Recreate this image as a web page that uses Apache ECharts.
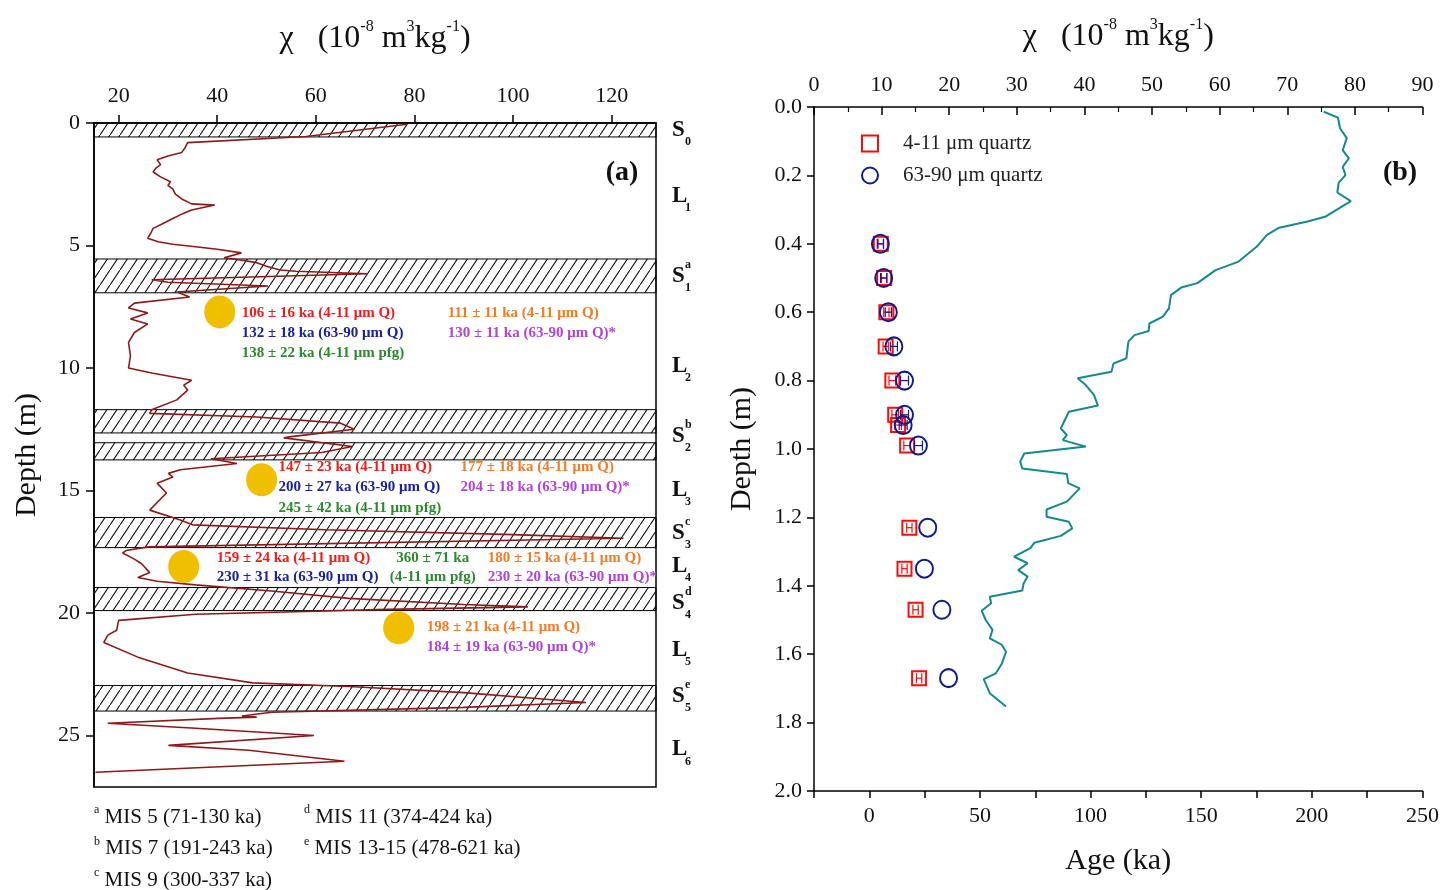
<!DOCTYPE html>
<html>
<head>
<meta charset="utf-8">
<script src="https://cdn.jsdelivr.net/npm/echarts@6/dist/echarts.min.js"></script>
<style>
html, body { margin: 0; background: #fff; }
#chart { width: 1442px; height: 890px; }
</style>
</head>
<body>
<div id="chart"></div>
<script>
// ---- panel (a): magnetic susceptibility profile vs depth ----
const profileDepth = [0.05, 0.55, 0.8, 1.0, 1.2, 1.35, 1.5, 1.7, 1.85, 2.0, 2.2, 2.4, 2.55, 2.7, 2.9, 3.1, 3.3, 3.35, 3.55, 3.7, 3.9, 4.1, 4.3, 4.5, 4.7, 4.85, 4.95, 5.05, 5.15, 5.3, 5.5, 5.6, 5.7, 5.85, 6.0, 6.05, 6.15, 6.4, 6.5, 6.65, 6.9, 7.1, 7.35, 7.55, 7.75, 8.0, 8.2, 8.55, 8.95, 9.5, 10.0, 10.2, 10.5, 10.7, 10.9, 11.3, 11.7, 11.85, 12.0, 12.25, 12.5, 12.8, 12.85, 13.2, 13.45, 13.7, 13.9, 14.15, 14.3, 14.45, 14.7, 15.1, 15.8, 16.2, 16.4, 16.6, 16.8, 16.95, 17.3, 17.45, 17.55, 17.8, 18.0, 18.35, 18.55, 18.7, 18.85, 19.1, 19.4, 19.65, 19.75, 19.85, 20.05, 20.3, 20.7, 20.9, 21.2, 21.8, 22.45, 22.85, 23.0, 23.25, 23.5, 23.65, 23.85, 24.05, 24.2, 24.25, 24.3, 24.5, 24.7, 25.0, 25.4, 25.6, 26.05, 26.5];
const profileChi = [78.5, 58, 34, 33.5, 32.8, 30, 27.8, 28.5, 27.5, 27, 28.5, 30.5, 30, 31, 31.5, 32.8, 34.8, 39.5, 34.8, 33, 31, 29, 27, 26.5, 25.9, 28, 31, 35.6, 40, 44.9, 41.4, 45, 48, 50, 52.7, 56, 70.5, 26.7, 30, 50.3, 31.8, 34.4, 23.2, 22, 25.9, 22.4, 25.9, 23.2, 22, 22.4, 22, 26.7, 34.8, 33.2, 34, 31.8, 26.7, 26.3, 48, 65, 67.8, 55, 53.5, 67.4, 61.2, 38.7, 44, 32.5, 30.1, 31, 27.8, 29.7, 26.3, 32.5, 35, 62, 100, 122.4, 26, 21.5, 20.8, 23.2, 24.7, 26.3, 23.9, 27.8, 35.6, 51, 66.7, 90, 103, 74.4, 35.6, 20, 19.6, 17.8, 17, 23.9, 34, 47.2, 66.7, 90, 105.4, 114.8, 90, 51, 45, 48, 40.3, 17.8, 35.6, 59.6, 30.1, 46.4, 65.8, 15.3];
const paleosolTop = [0, 5.55, 11.7, 13.05, 16.1, 18.96, 22.96];
const paleosolBottom = [0.57, 6.93, 12.65, 13.75, 17.33, 19.9, 24.0];
const unitLetter = ['S', 'L', 'S', 'L', 'S', 'L', 'S', 'L', 'S', 'L', 'S', 'L'];
const unitSub = ['0', '1', '1', '2', '2', '3', '3', '4', '4', '5', '5', '6'];
const unitSup = ['', '', 'a', '', 'b', '', 'c', '', 'd', '', 'e', ''];
const unitDepth = [0.29, 2.98, 6.24, 9.9, 12.76, 14.97, 16.72, 18.07, 19.6, 21.5, 23.4, 25.57];
const sampleChi = [40.5, 49, 33.2, 76.8];
const sampleDepthA = [7.71, 14.56, 18.1, 20.6];
const sampleTexts = [
    [['106 ± 16 ka (4-11 μm Q)', '132 ± 18 ka (63-90 μm Q)', '138 ± 22 ka (4-11 μm pfg)'], ['111 ± 11 ka (4-11 μm Q)', '130 ± 11 ka (63-90 μm Q)*']],
    [['147 ± 23 ka (4-11 μm Q)', '200 ± 27 ka (63-90 μm Q)', '245 ± 42 ka (4-11 μm pfg)'], ['177 ± 18 ka (4-11 μm Q)', '204 ± 18 ka (63-90 μm Q)*']],
    [['159 ± 24 ka (4-11 μm Q)', '230 ± 31 ka (63-90 μm Q)'], ['360 ± 71 ka', '(4-11 μm pfg)'], ['180 ± 15 ka (4-11 μm Q)', '230 ± 20 ka (63-90 μm Q)*']],
    [['198 ± 21 ka (4-11 μm Q)', '184 ± 19 ka (63-90 μm Q)*']]
];
const leftChiTicks = [20, 40, 60, 80, 100, 120];
const leftDepthTicks = [0, 5, 10, 15, 20, 25];
const footnoteSup = ['a', 'b', 'c', 'd', 'e'];
const footnoteText = ['MIS 5 (71-130 ka)', 'MIS 7 (191-243 ka)', 'MIS 9 (300-337 ka)', 'MIS 11 (374-424 ka)', 'MIS 13-15 (478-621 ka)'];

// ---- panel (b): upper section ----
const upperDepth = [0.014, 0.031, 0.062, 0.091, 0.126, 0.15, 0.175, 0.199, 0.222, 0.25, 0.275, 0.32, 0.335, 0.353, 0.374, 0.408, 0.452, 0.477, 0.515, 0.528, 0.55, 0.589, 0.613, 0.633, 0.655, 0.667, 0.686, 0.735, 0.75, 0.774, 0.793, 0.813, 0.842, 0.873, 0.891, 0.94, 0.959, 0.974, 0.993, 1.013, 1.037, 1.057, 1.073, 1.1, 1.115, 1.154, 1.177, 1.198, 1.213, 1.232, 1.254, 1.274, 1.29, 1.315, 1.334, 1.354, 1.373, 1.393, 1.414, 1.432, 1.451, 1.473, 1.5, 1.529, 1.554, 1.573, 1.593, 1.627, 1.656, 1.673, 1.714, 1.753];
const upperChi = [75.4, 77.5, 77.8, 78.8, 78.2, 79.1, 78.2, 78.6, 77.6, 77.4, 79.4, 75.7, 73.0, 68.8, 67.0, 65.5, 62.8, 59.4, 56.7, 54.3, 52.8, 52.5, 51.6, 49.6, 49.5, 47.4, 46.5, 46.2, 44.3, 44.0, 39.0, 40.2, 41.4, 42.0, 37.7, 36.5, 37.4, 36.8, 40.2, 31.1, 30.5, 30.8, 37.4, 37.6, 39.3, 37.4, 34.4, 34.4, 37.7, 38.2, 36.5, 32.6, 32.0, 29.6, 31.6, 30.2, 31.6, 31.0, 30.8, 26.0, 26.2, 24.8, 25.4, 26.4, 26.0, 27.8, 28.4, 27.8, 26.9, 25.1, 26.0, 28.4];
const sampleDepthB = [0.40, 0.50, 0.60, 0.70, 0.80, 0.90, 0.93, 0.99, 1.23, 1.35, 1.47, 1.67];
const ageFine = [5.2, 6.7, 7.7, 7.4, 10.4, 11.7, 13.0, 17.1, 18.1, 15.9, 20.9, 22.5];
const ageFineErr = [1.2, 1.2, 1.2, 1.2, 1.5, 1.5, 1.5, 1.5, 1.2, 1.2, 1.2, 1.2];
const ageCoarse = [5.0, 6.5, 8.6, 11.1, 15.9, 15.9, 15.3, 22.2, 26.4, 24.9, 32.8, 35.8];
const ageCoarseErr = [1.4, 1.4, 1.4, 1.6, 1.8, 1.8, 1.8, 1.8, 0, 0, 0, 0];

const SERIF = '"Liberation Serif", "Times New Roman", serif';
const RED = '#f01c1c', NAVY = '#1b2496', GREEN = '#2b8a2b', ORANGE = '#f57a24', PURPLE = '#b043dc';
const textColors = [
    [[RED, NAVY, GREEN], [ORANGE, PURPLE]],
    [[RED, NAVY, GREEN], [ORANGE, PURPLE]],
    [[RED, NAVY], [GREEN, GREEN], [ORANGE, PURPLE]],
    [[ORANGE, PURPLE]]
];

function hatchPattern() {
    const c = document.createElement('canvas');
    c.width = 10; c.height = 15;
    const g = c.getContext('2d');
    g.strokeStyle = '#111';
    g.lineWidth = 1.1;
    g.beginPath();
    g.moveTo(-1, 16.5); g.lineTo(11, -1.5);
    g.stroke();
    return c;
}
const hatch = hatchPattern();

const chart = echarts.init(document.getElementById('chart'));

const chiName = '{t|χ}   {t|(10}{s|-8}{t| m}{s|3}{t|kg}{s|-1}{t|)}';
const chiRich = {
    t: { fontFamily: SERIF, fontSize: 32, color: '#111', lineHeight: 40 },
    s: { fontFamily: SERIF, fontSize: 16, color: '#111', lineHeight: 14, verticalAlign: 'top' }
};
const axisLineStyle = { color: '#000', width: 1.5 };
const labelStyle = { fontFamily: SERIF, fontSize: 22, color: '#111' };

function errorBars(ages, errs, color) {
    return {
        type: 'custom',
        xAxisIndex: 2,
        yAxisIndex: 1,
        z: 5,
        silent: true,
        data: sampleDepthB.map((d, i) => [ages[i] - errs[i], ages[i] + errs[i], d, errs[i]]),
        encode: { x: [0, 1], y: 2 },
        renderItem: function (params, api) {
            if (api.value(3) <= 0) return null;
            const lo = api.coord([api.value(0), api.value(2)]);
            const hi = api.coord([api.value(1), api.value(2)]);
            const st = { stroke: color, lineWidth: 1.2 };
            return {
                type: 'group',
                children: [
                    { type: 'line', shape: { x1: lo[0], y1: lo[1], x2: hi[0], y2: hi[1] }, style: st },
                    { type: 'line', shape: { x1: lo[0], y1: lo[1] - 5, x2: lo[0], y2: lo[1] + 5 }, style: st },
                    { type: 'line', shape: { x1: hi[0], y1: hi[1] - 5, x2: hi[0], y2: hi[1] + 5 }, style: st }
                ]
            };
        }
    };
}

const option = {
    animation: false,
    backgroundColor: '#fff',
    grid: [
        { left: 94, top: 123, width: 562, height: 664, show: true, borderColor: '#000', borderWidth: 1.5, backgroundColor: 'transparent' },
        { left: 814, top: 107, width: 609, height: 684 }
    ],
    legend: {
        data: ['4-11 μm quartz', '63-90 μm quartz'],
        orient: 'vertical',
        left: 856,
        top: 128,
        itemWidth: 16,
        itemHeight: 16,
        itemGap: 11,
        textStyle: { fontFamily: SERIF, fontSize: 21, color: '#222', padding: [0, 0, 0, 20] }
    },
    xAxis: [
        {
            type: 'value', gridIndex: 0, position: 'top', min: 15, max: 129,
            name: chiName, nameLocation: 'middle', nameGap: 64,
            nameTextStyle: { fontFamily: SERIF, fontSize: 32, color: '#111', rich: chiRich },
            axisLine: { lineStyle: axisLineStyle },
            axisTick: { customValues: leftChiTicks, length: 8, lineStyle: axisLineStyle },
            axisLabel: { customValues: leftChiTicks, margin: 16, ...labelStyle },
            splitLine: { show: false }
        },
        {
            type: 'value', gridIndex: 1, position: 'top', min: 0, max: 90, interval: 10,
            name: chiName, nameLocation: 'middle', nameGap: 50,
            nameTextStyle: { fontFamily: SERIF, fontSize: 32, color: '#111', rich: chiRich },
            axisLine: { lineStyle: axisLineStyle },
            axisTick: { inside: true, length: 8, lineStyle: axisLineStyle },
            minorTick: { show: true, splitNumber: 2, length: 5, lineStyle: { color: '#000', width: 1.2 } },
            axisLabel: { margin: 11, ...labelStyle },
            splitLine: { show: false }
        },
        {
            type: 'value', gridIndex: 1, position: 'bottom', min: -25, max: 250, interval: 25,
            name: 'Age (ka)', nameLocation: 'middle', nameGap: 55,
            nameTextStyle: { fontFamily: SERIF, fontSize: 30, color: '#111' },
            axisLine: { onZero: false, lineStyle: axisLineStyle },
            axisTick: { length: 7, lineStyle: axisLineStyle },
            axisLabel: { margin: 14, ...labelStyle, formatter: v => (v % 50 === 0 ? String(v) : '') },
            splitLine: { show: false }
        }
    ],
    yAxis: [
        {
            type: 'value', gridIndex: 0, inverse: true, min: 0, max: 27.1,
            name: 'Depth (m)', nameLocation: 'middle', nameGap: 52, nameRotate: 90,
            nameTextStyle: { fontFamily: SERIF, fontSize: 30, color: '#111' },
            axisLine: { lineStyle: axisLineStyle },
            axisTick: { customValues: leftDepthTicks, length: 8, lineStyle: axisLineStyle },
            axisLabel: { customValues: leftDepthTicks, margin: 14, ...labelStyle },
            splitLine: { show: false }
        },
        {
            type: 'value', gridIndex: 1, inverse: true, min: 0, max: 2, interval: 0.2,
            name: 'Depth (m)', nameLocation: 'middle', nameGap: 57, nameRotate: 90,
            nameTextStyle: { fontFamily: SERIF, fontSize: 30, color: '#111' },
            axisLine: { onZero: false, lineStyle: axisLineStyle },
            axisTick: { length: 7, lineStyle: axisLineStyle },
            axisLabel: { margin: 12, ...labelStyle, formatter: v => v.toFixed(1) },
            splitLine: { show: false }
        }
    ],
    series: [
        {
            name: 'chi profile',
            type: 'line',
            xAxisIndex: 0,
            yAxisIndex: 0,
            showSymbol: false,
            z: 3,
            lineStyle: { color: '#8b1a1a', width: 1.6 },
            data: profileDepth.map((d, i) => [profileChi[i], d]),
            markArea: {
                silent: true,
                itemStyle: { color: { image: hatch, repeat: 'repeat' }, borderColor: '#000', borderWidth: 1 },
                data: paleosolTop.map((t, i) => [{ yAxis: t }, { yAxis: paleosolBottom[i] }])
            }
        },
        {
            name: 'samples',
            type: 'scatter',
            xAxisIndex: 0,
            yAxisIndex: 0,
            symbol: 'circle',
            symbolSize: [31, 33],
            z: 4,
            itemStyle: { color: '#f0c000', opacity: 1 },
            data: sampleDepthA.map((d, i) => [sampleChi[i], d])
        },
        {
            name: 'chi upper',
            type: 'line',
            xAxisIndex: 1,
            yAxisIndex: 1,
            showSymbol: false,
            lineStyle: { color: '#16898a', width: 2 },
            data: upperDepth.map((d, i) => [upperChi[i], d])
        },
        {
            name: '4-11 μm quartz',
            type: 'scatter',
            xAxisIndex: 2,
            yAxisIndex: 1,
            symbol: 'rect',
            symbolSize: [14, 14],
            z: 4,
            itemStyle: { color: 'rgba(255,255,255,0)', borderColor: '#ff0a0a', borderWidth: 2, opacity: 1 },
            data: sampleDepthB.map((d, i) => [ageFine[i], d])
        },
        {
            name: '63-90 μm quartz',
            type: 'scatter',
            xAxisIndex: 2,
            yAxisIndex: 1,
            symbol: 'circle',
            symbolSize: [17, 18],
            z: 6,
            itemStyle: { color: 'rgba(255,255,255,0)', borderColor: '#101a8c', borderWidth: 2, opacity: 1 },
            data: sampleDepthB.map((d, i) => [ageCoarse[i], d])
        },
        errorBars(ageFine, ageFineErr, '#ff0a0a'),
        errorBars(ageCoarse, ageCoarseErr, '#101a8c')
    ]
};

chart.setOption(option);

// ---- text overlays placed through the axes ----
const px = (x, y) => chart.convertToPixel({ xAxisIndex: 0, yAxisIndex: 0 }, [x, y]);
const graphics = [];
function addText(x, y, text, opts) {
    graphics.push({
        type: 'text',
        z: 10,
        silent: true,
        style: Object.assign({
            x: x, y: y, text: text,
            fontFamily: SERIF, fontSize: 15, fontWeight: 'bold', fill: '#111',
            align: 'left', textAlign: 'left', verticalAlign: 'middle', textVerticalAlign: 'middle'
        }, opts || {})
    });
}

// stratigraphic unit labels to the right of panel (a)
unitDepth.forEach((d, i) => {
    const p = px(129, d);
    addText(p[0] + 16, p[1], unitLetter[i], { fontSize: 23 });
    addText(p[0] + 29, p[1] + 12, unitSub[i], { fontSize: 12 });
    if (unitSup[i]) addText(p[0] + 29, p[1] - 11, unitSup[i], { fontSize: 12 });
});

// luminescence ages beside each sampling point
const colLayout = [
    [{ dx: 22, dy: 1, align: 'left' }, { dx: 228, dy: 1, align: 'left' }],
    [{ dx: 17, dy: -13, align: 'left' }, { dx: 199, dy: -13, align: 'left' }],
    [{ dx: 33, dy: -8, align: 'left' }, { dx: 249, dy: -8, align: 'center' }, { dx: 304, dy: -8, align: 'left' }],
    [{ dx: 28, dy: -1, align: 'left' }]
];
const lineStep = [20, 20.5, 19, 20];
sampleTexts.forEach((cols, k) => {
    const c = px(sampleChi[k], sampleDepthA[k]);
    cols.forEach((lines, j) => {
        const L = colLayout[k][j];
        lines.forEach((s, r) => {
            addText(c[0] + L.dx, c[1] + L.dy + r * lineStep[k], s,
                { fill: textColors[k][j][r], align: L.align, textAlign: L.align });
        });
    });
});

// panel letters
addText(622, 173, '(a)', { fontSize: 28, align: 'center', textAlign: 'center' });
addText(1400, 173, '(b)', { fontSize: 28, align: 'center', textAlign: 'center' });

// footnotes
const footRich = {
    s: { fontFamily: SERIF, fontSize: 12, color: '#222', lineHeight: 9, verticalAlign: 'top' },
    t: { fontFamily: SERIF, fontSize: 21, color: '#222', lineHeight: 26 }
};
footnoteText.forEach((s, i) => {
    const x = i < 3 ? 94 : 304;
    const y = 817 + (i < 3 ? i : i - 3) * 31.5;
    addText(x, y, '{s|' + footnoteSup[i] + '}{t| ' + s + '}', { fontWeight: 'normal', rich: footRich });
});

chart.setOption({ graphic: graphics });
window.addEventListener('resize', () => chart.resize());
</script>
</body>
</html>
